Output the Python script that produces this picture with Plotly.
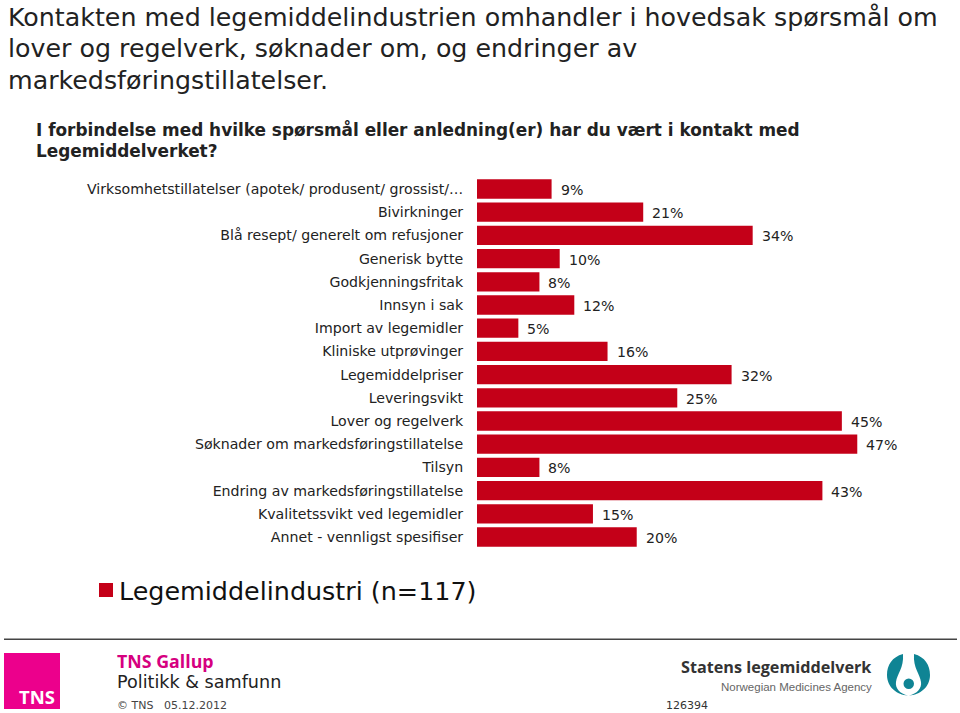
import plotly.graph_objects as go

W, H = 960, 713
categories = ["Virksomhetstillatelser (apotek/ produsent/ grossist/…", "Bivirkninger", "Blå resept/ generelt om refusjoner",
              "Generisk bytte", "Godkjenningsfritak", "Innsyn i sak", "Import av legemidler", "Kliniske utprøvinger",
              "Legemiddelpriser", "Leveringsvikt", "Lover og regelverk", "Søknader om markedsføringstillatelse",
              "Tilsyn", "Endring av markedsføringstillatelse", "Kvalitetssvikt ved legemidler", "Annet - vennligst spesifiser"]
values = [9.2, 20.5, 34.0, 10.2, 7.7, 12.0, 5.1, 16.1, 31.4, 24.7, 45.0, 46.9, 7.7, 42.6, 14.3, 19.7]
labels = [9, 21, 34, 10, 8, 12, 5, 16, 32, 25, 45, 47, 8, 43, 15, 20]
series_name = "Legemiddelindustri (n=117)"
RED = "#C40018"
SANS = "DejaVu Sans"

def px(x): return x / W
def py(y): return 1 - y / H

fig = go.Figure(go.Bar(y=categories, x=values, orientation="h", name=series_name, marker=dict(color=RED, line=dict(width=0)),
                       showlegend=True, hoverinfo="skip"))

fig.update_layout(
    width=W, height=H, margin=dict(l=0, r=0, t=0, b=0), paper_bgcolor="white", plot_bgcolor="white",
    bargap=0.17, font=dict(family=SANS, color="#222222"),
    xaxis=dict(domain=[px(477), px(957)], range=[0, 59.2], visible=False),
    yaxis=dict(domain=[py(548.6), py(177.4)], autorange="reversed", showgrid=False, showline=False, ticks="outside",
               ticklen=10, tickcolor="rgba(0,0,0,0)", tickfont=dict(size=14.15, family=SANS, color="#222222"), dtick=1),
    legend=dict(x=px(79), y=py(567), xanchor="left", yanchor="top", font=dict(size=25.4, family=SANS, color="#111111"),
                bgcolor="rgba(0,0,0,0)", itemwidth=30),
)

for c, a, l in zip(categories, values, labels):
    fig.add_annotation(x=a, y=c, text=f"{l}%", xref="x", yref="y", showarrow=False, xanchor="left", xshift=7, yshift=-1,
                       font=dict(size=14.15, family=SANS, color="#222222"))

def text(x, y, s, size, color="#222222", family=SANS, anchor="left", bold=False):
    fig.add_annotation(x=px(x), y=py(y), xref="paper", yref="paper", text=f"<b>{s}</b>" if bold else s, showarrow=False,
                       xanchor=anchor, yanchor="middle", font=dict(size=size, family=family, color=color), borderpad=0)

text(7, 17, "Kontakten med legemiddelindustrien omhandler i hovedsak spørsmål om", 25.3)
text(7, 48, "lover og regelverk, søknader om, og endringer av", 25.3)
text(7, 80, "markedsføringstillatelser.", 25.3)
text(35, 129, "I forbindelse med hvilke spørsmål eller anledning(er) har du vært i kontakt med", 16.9, bold=True)
text(35, 151, "Legemiddelverket?", 16.9, bold=True)

text(116, 661, "TNS Gallup", 17.8, "#D6007F", "Open Sans", bold=True)
text(116, 682, "Politikk &amp; samfunn", 17.6, "#222222")
text(116, 705, "© TNS   05.12.2012", 11, "#444444")
text(665, 705, "126394", 11, "#333333")
text(680, 667, "Statens legemiddelverk", 16.2, "#333333", "Open Sans", bold=True)
text(873, 687, "Norwegian Medicines Agency", 11.5, "#666666", "Liberation Sans", anchor="right")
text(18, 696, "TNS", 18.5, "white", "Open Sans", bold=True)

def rect(x0, y0, x1, y1, color):
    fig.add_shape(type="rect", xref="paper", yref="paper", x0=px(x0), x1=px(x1), y0=py(y1), y1=py(y0),
                  fillcolor=color, line=dict(width=0), layer="below")

rect(4, 653, 60, 709, "#EC008C")
rect(4, 638.5, 957, 640, "#444444")

def path(points):
    s = ""
    for cmd, pts in points:
        s += cmd + " " + " ".join(f"{px(x):.5f},{py(y):.5f}" for x, y in pts) + " "
    return s + "Z"

TEAL = "#0F8494"
fig.add_shape(type="path", xref="paper", yref="paper", fillcolor=TEAL, line=dict(width=0), path=path([
    ("M", [(903, 654)]), ("C", [(892, 657), (887, 665), (887, 675)]), ("C", [(887, 687), (897, 695), (908, 695.5)]),
    ("C", [(900, 694), (895, 688), (896, 682)]), ("C", [(897, 674), (904, 668), (903, 654)])]))
fig.add_shape(type="path", xref="paper", yref="paper", fillcolor=TEAL, line=dict(width=0), path=path([
    ("M", [(914, 654)]), ("C", [(925, 657), (930, 665), (930, 675)]), ("C", [(930, 687), (920, 695), (909, 695.5)]),
    ("C", [(917, 694), (922, 688), (921, 682)]), ("C", [(920, 674), (913, 668), (914, 654)])]))
fig.add_shape(type="circle", xref="paper", yref="paper", x0=px(903.5), x1=px(914), y0=py(689), y1=py(678.5), fillcolor=TEAL, line=dict(width=0))

post = """
document.body.style.margin='0';
document.querySelectorAll('.legend .legendsymbols').forEach(g=>g.setAttribute('transform','translate(7,0)'));
document.querySelectorAll('.legend .legendpoints path').forEach(p=>p.setAttribute('d','M7,7H-7V-7H7Z'));
"""
fig.write_html("out.html", post_script=post, config={"displayModeBar": False})
